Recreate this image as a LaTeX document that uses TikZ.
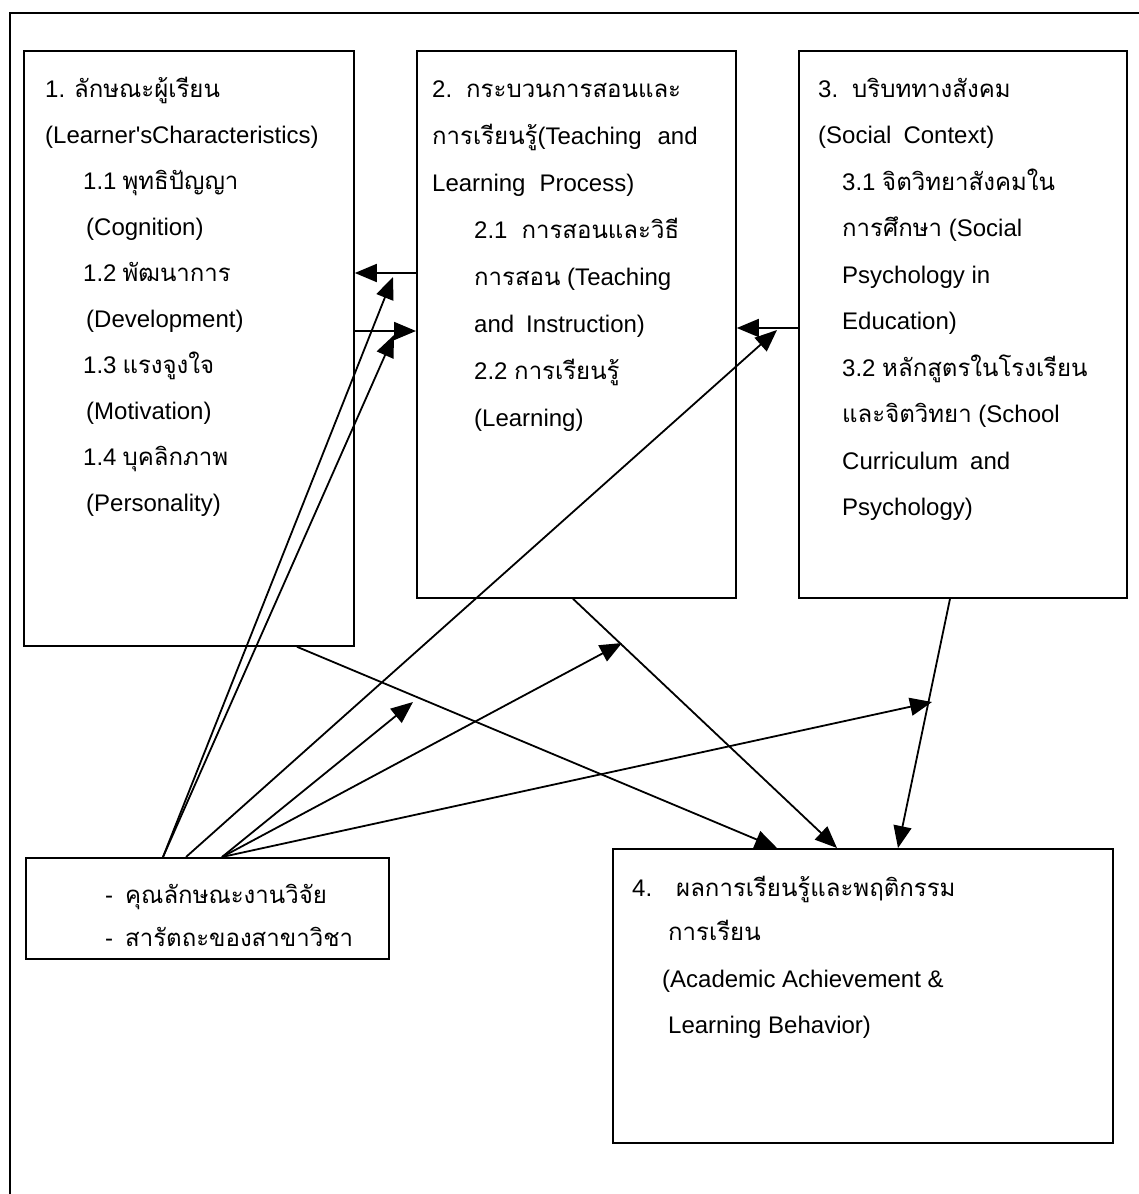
\documentclass[tikz,border=0pt]{standalone}
\usepackage{fontspec}
\setmainfont{Liberation Sans}[Ligatures=TeXOff]
\newfontfamily\thai[Script=Thai]{Loma}
\usetikzlibrary{arrows.meta}

\begin{document}
\begin{tikzpicture}[x=1pt,y=-1pt,
  box/.style={draw,line width=1.8pt,anchor=north west,inner sep=0pt},
  ln/.style={anchor=base west,inner sep=0pt,font=\fontsize{24}{28}\selectfont},
  arr/.style={line width=1.8pt,-{Triangle[length=22pt,width=18pt]}},
  link/.style={line width=1.8pt}]
\useasboundingbox (0,0) rectangle (1139,1194);

% outer frame
\draw[link] (10,1194) -- (10,13) -- (1139,13);

% boxes
\node[box,minimum width=330pt,minimum height=595pt] (b1) at (23,50) {};
\node[box,minimum width=319pt,minimum height=547pt] (b2) at (416,50) {};
\node[box,minimum width=328pt,minimum height=547pt] (b3) at (798,50) {};
\node[box,minimum width=363pt,minimum height=101pt] (b5) at (25,857) {};
\node[box,minimum width=500pt,minimum height=294pt] (b4) at (612,848) {};

% box 1 text
\node[ln] (b1a) at (45,97)  {1. {\thai ลักษณะผู้เรียน}};
\node[ln] (b1b) at (45,143) {(Learner's\kern-0.5ptCharacteristics)};
\node[ln] (b1c) at (83,189) {1.1\hspace{6pt}{\thai พุทธิปัญญา}};
\node[ln] (b1d) at (86,235) {(Cognition)};
\node[ln] (b1e) at (83,281) {1.2\hspace{6pt}{\thai พัฒนาการ}};
\node[ln] (b1f) at (86,327) {(Development)};
\node[ln] (b1g) at (83,373) {1.3\hspace{6pt}{\thai แรงจูงใจ}};
\node[ln] (b1h) at (86,419) {(Motivation)};
\node[ln] (b1i) at (83,465) {1.4\hspace{6pt}{\thai บุคลิกภาพ}};
\node[ln] (b1j) at (86,511) {(Personality)};

% box 2 text
\node[ln] (b2a) at (432,97)  {2.\hspace{14pt}{\thai กระบวนการสอนและ}};
\node[ln] (b2b) at (432,144) {{\thai การเรียนรู้}(Teaching\hspace{16pt}and};
\node[ln] (b2c) at (432,191) {Learning\hspace{14pt}Process)};
\node[ln] (b2d) at (474,238) {2.1\hspace{14pt}{\thai การสอนและวิธี}};
\node[ln] (b2e) at (474,285) {{\thai การสอน} (Teaching};
\node[ln] (b2f) at (474,332) {and\hspace{12pt}Instruction)};
\node[ln] (b2g) at (474,379) {2.2 {\thai การเรียนรู้}};
\node[ln] (b2h) at (474,426) {(Learning)};

% box 3 text
\node[ln] (b3a) at (818,97)  {3.\hspace{14pt}{\thai บริบททางสังคม}};
\node[ln] (b3b) at (818,143) {(Social\hspace{12pt}Context)};
\node[ln] (b3c) at (842,190) {3.1 {\thai จิตวิทยาสังคมใน}};
\node[ln] (b3d) at (842,236) {{\thai การศึกษา} (Social};
\node[ln] (b3e) at (842,283) {Psychology in};
\node[ln] (b3f) at (842,329) {Education)};
\node[ln] (b3g) at (842,376) {3.2 {\thai หลักสูตรในโรงเรียน}};
\node[ln] (b3h) at (842,422) {{\thai และจิตวิทยา} (School};
\node[ln] (b3i) at (842,469) {Curriculum\hspace{12pt}and};
\node[ln] (b3j) at (842,515) {Psychology)};

% box 5 text
\node[ln] (b5a) at (105,903) {-\hspace{12pt}{\thai คุณลักษณะงานวิจัย}};
\node[ln] (b5b) at (105,946) {-\hspace{12pt}{\thai สารัตถะของสาขาวิชา}};

% box 4 text
\node[ln] (b4a) at (632,896)  {4.\hspace{24pt}{\thai ผลการเรียนรู้และพฤติกรรม}};
\node[ln] (b4b) at (668,940)  {{\thai การเรียน}};
\node[ln] (b4c) at (662,987)  {(Academic Achievement \&};
\node[ln] (b4d) at (668,1033) {Learning Behavior)};

% arrows between the upper boxes
\draw[arr] (b2.west |- 0,273) -- (b1.east |- 0,273);
\draw[arr] (b1.east |- 0,331) -- (b2.west |- 0,331);
\draw[arr] (b3.west |- 0,328) -- (b2.east |- 0,328);

% sources on the top edge of box 5
\coordinate (s1) at (b5.north -| 163,0);
\coordinate (s2) at (b5.north -| 186,0);
\coordinate (s3) at (b5.north -| 222,0);
% free ends of the fan arrows
\coordinate (t1) at (393,277);
\coordinate (t2) at (394,335);
\coordinate (t3) at (777,330);
\coordinate (t4) at (413,702);
\coordinate (t5) at (622,643);
\coordinate (t6) at (932,702);

\draw[arr] (s1) -- (t1);
\draw[arr] (s1) -- (t2);
\draw[arr] (s2) -- (t3);
\draw[arr] (s3) -- (t4);
\draw[arr] (s3) -- (t5);
\draw[arr] (s3) -- (t6);

% arrows into box 4
\draw[arr] (b1.south -| 297,0) -- (b4.north -| 777,0);
\draw[arr] (b2.south -| 573,0) -- (b4.north -| 837,0);
\draw[arr] (b3.south -| 950,0) -- (b4.north -| 898,0);
\end{tikzpicture}
\end{document}
